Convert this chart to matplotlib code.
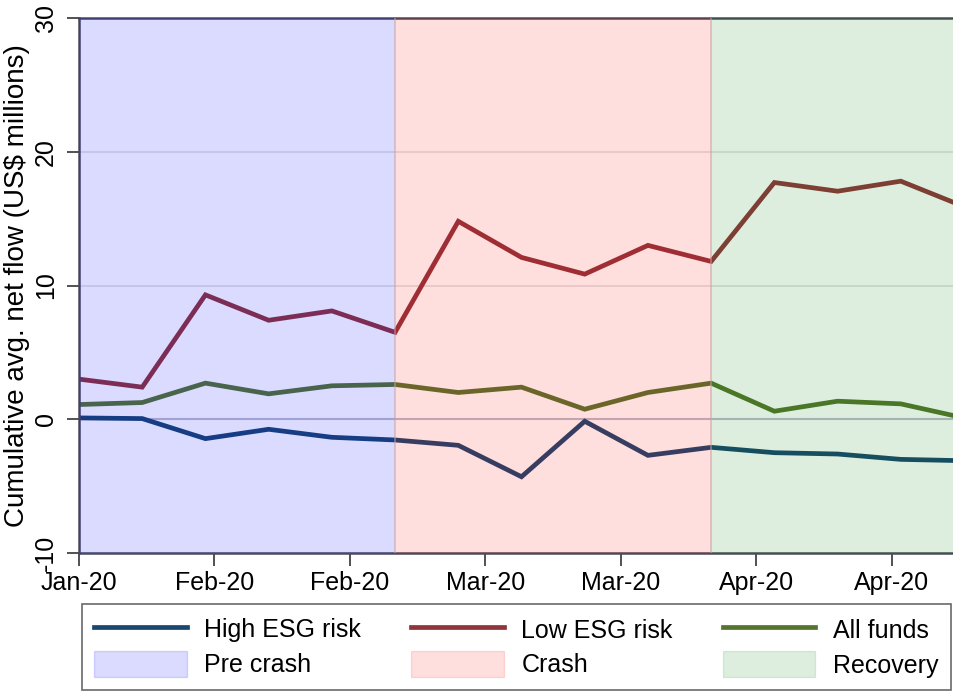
import pandas as pd
import matplotlib
matplotlib.use('Agg')
import matplotlib.pyplot as plt
import matplotlib.dates as mdates
from matplotlib.lines import Line2D
from matplotlib.patches import Patch

plt.rcParams['font.family'] = ['Liberation Sans', 'DejaVu Sans']
plt.rcParams['axes.unicode_minus'] = False

# weekly observations
weeks = pd.date_range('2020-01-17', periods=15, freq='7D')
high_esg = [0.1, 0.05, -1.45, -0.75, -1.35, -1.55, -1.95, -4.3, -0.15, -2.7,
            -2.1, -2.5, -2.6, -3.0, -3.1]
low_esg = [3.0, 2.4, 9.3, 7.4, 8.1, 6.5, 14.8, 12.1, 10.85, 13.0,
           11.8, 17.7, 17.05, 17.8, 15.9]
all_funds = [1.1, 1.25, 2.7, 1.9, 2.5, 2.6, 2.0, 2.4, 0.75, 2.0,
             2.7, 0.6, 1.35, 1.15, 0.1]

# phases: index of first and last week of each period
phases = ['Pre crash', 'Crash', 'Recovery']
phase_bounds = [(0, 5), (5, 10), (10, 14)]
phase_colors = ['#0000ff', '#ff0000', '#008000']
phase_alpha = [0.14, 0.13, 0.13]

series_labels = ['High ESG risk', 'Low ESG risk', 'All funds']
series_colors = ['#1a476f', '#90353b', '#55752f']

fig = plt.figure(figsize=(9.54, 6.93), dpi=100)
ax = fig.add_axes([79 / 954, 140 / 693, 885 / 954, 535 / 693])

for y in [10, 20]:
    ax.axhline(y, color='#e2e2e2', lw=1.2, zorder=1)
ax.axhline(0, color='#bcbcd0', lw=1.5, zorder=1)

for vals, c in zip([high_esg, low_esg, all_funds], series_colors):
    ax.plot(weeks, vals, color=c, lw=3.4, zorder=2, solid_joinstyle='miter')

# shaded periods drawn over the lines
for (a, b), c, al in zip(phase_bounds, phase_colors, phase_alpha):
    ax.axvspan(weeks[a], weeks[b], facecolor=c, alpha=al, edgecolor='none', zorder=4)
for i in [5, 10]:
    ax.axvline(weeks[i], color='#c8a0a0', lw=1.2, alpha=0.6, zorder=4)

ax.set_xlim(weeks[0], weeks[-1])
ax.set_ylim(-10, 30)
ax.set_yticks([-10, 0, 10, 20, 30])
ax.set_yticklabels(['-10', '0', '10', '20', '30'], rotation=90, va='center')
ax.set_xticks(pd.date_range(weeks[0], periods=7, freq='15D'))
ax.xaxis.set_major_formatter(mdates.DateFormatter('%b-%y'))

ax.tick_params(axis='both', labelsize=18, length=9, width=1.2, color='#333333')
ax.tick_params(axis='y', pad=6)
ax.tick_params(axis='x', pad=4)

for side in ['left', 'bottom', 'top']:
    ax.spines[side].set_color('#4a4a5a')
    ax.spines[side].set_linewidth(1.8)
ax.spines['right'].set_visible(False)

ax.set_ylabel('Cumulative avg. net flow (US$ millions)', fontsize=20, labelpad=3)

handles = [Line2D([], [], color=c, lw=3.4) for c in series_colors]
patches = [Patch(facecolor=c, alpha=al, edgecolor=c) for c, al in zip(phase_colors, phase_alpha)]
labels = series_labels + phases
# column-major order so the rows read lines / shades
order = [0, 3, 1, 4, 2, 5]
all_handles = handles + patches
leg = fig.legend([all_handles[i] for i in order], [labels[i] for i in order],
                 loc='lower left', bbox_to_anchor=(82 / 954, 3 / 693, 869 / 954, 77 / 693),
                 mode='expand', borderaxespad=0, ncol=3, fontsize=18,
                 handlelength=3.7, handleheight=1.2, handletextpad=0.7,
                 labelspacing=0.35, borderpad=0.5, fancybox=False, frameon=True)
leg.get_frame().set_edgecolor('#444444')
leg.get_frame().set_linewidth(1.2)

fig.savefig('out.png', dpi=100)
